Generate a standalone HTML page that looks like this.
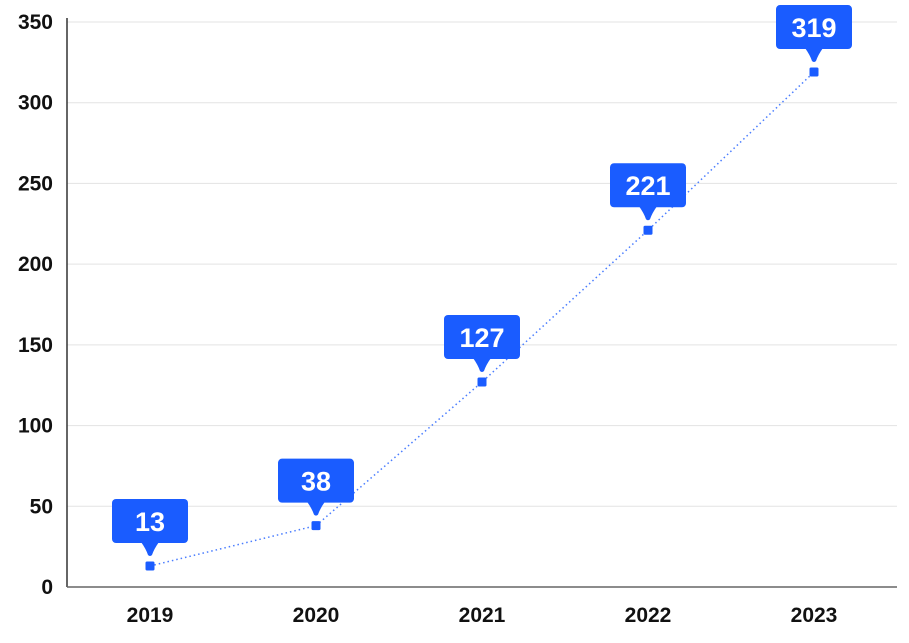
<!DOCTYPE html>
<html><head><meta charset="utf-8"><style>
body{margin:0;background:#fff;width:909px;height:638px;overflow:hidden}
text{font-family:"Liberation Sans",sans-serif;font-weight:bold}
</style></head><body>
<svg id="chart" width="909" height="638" xmlns="http://www.w3.org/2000/svg"></svg>
<script>
const categories=["2019","2020","2021","2022","2023"];
const values=[13,38,127,221,319];
const yTicks=[0,50,100,150,200,250,300,350];
const NS="http://www.w3.org/2000/svg";
const svg=document.getElementById('chart');
const left=67,right=897,y0=587,yTop=22,yMax=350;
const band=(right-left)/categories.length;
const x=i=>left+band*(i+0.5);
const y=v=>y0-(v/yMax)*(y0-yTop);
function mk(tag,attrs,parent){const e=document.createElementNS(NS,tag);for(const k in attrs)e.setAttribute(k,attrs[k]);(parent||svg).appendChild(e);return e;}
yTicks.forEach(t=>{
  if(t>0){const g=mk('line',{x1:left,x2:right,y1:y(t),y2:y(t),stroke:'#e3e3e3','stroke-width':1});
  
  }
  const l=mk('text',{x:53,y:y(t)+7,'text-anchor':'end','font-size':21,fill:'#111'});
  l.textContent=t;
  
  
});
const ya=mk('line',{x1:left,x2:left,y1:18,y2:y0,stroke:'#333','stroke-width':1.5});


const xa=mk('line',{x1:left,x2:right,y1:y0,y2:y0,stroke:'#666','stroke-width':1.5});


categories.forEach((c,i)=>{
  const l=mk('text',{x:x(i),y:622,'text-anchor':'middle','font-size':21,fill:'#111'});
  l.textContent=c;
  
  
});
const pts=values.map((v,i)=>x(i)+','+y(v)).join(' ');
const line=mk('polyline',{points:pts,fill:'none',stroke:'#4a7dff','stroke-width':1.5,'stroke-dasharray':'1.5 3'});


values.forEach((v,i)=>{
  const cx=x(i),cy=y(v);
  const p=mk('rect',{x:cx-4.5,y:cy-4.5,width:9,height:9,rx:1.5,fill:'#1a5cff'});
  
  
  const g=mk('g',{});
  
  
  const by=cy-67;
  mk('rect',{x:cx-38,y:by,width:76,height:44,rx:4,fill:'#1a5cff'},g);
  mk('path',{d:`M${cx-9},${by+43} Q${cx-4},${by+50} ${cx-2},${by+56} Q${cx},${by+58} ${cx+2},${by+56} Q${cx+4},${by+50} ${cx+9},${by+43} Z`,fill:'#1a5cff'},g);
  const t=mk('text',{x:cx,y:by+32,'text-anchor':'middle','font-size':27,fill:'#fff'},g);
  t.textContent=v;
});
</script>
</body></html>
